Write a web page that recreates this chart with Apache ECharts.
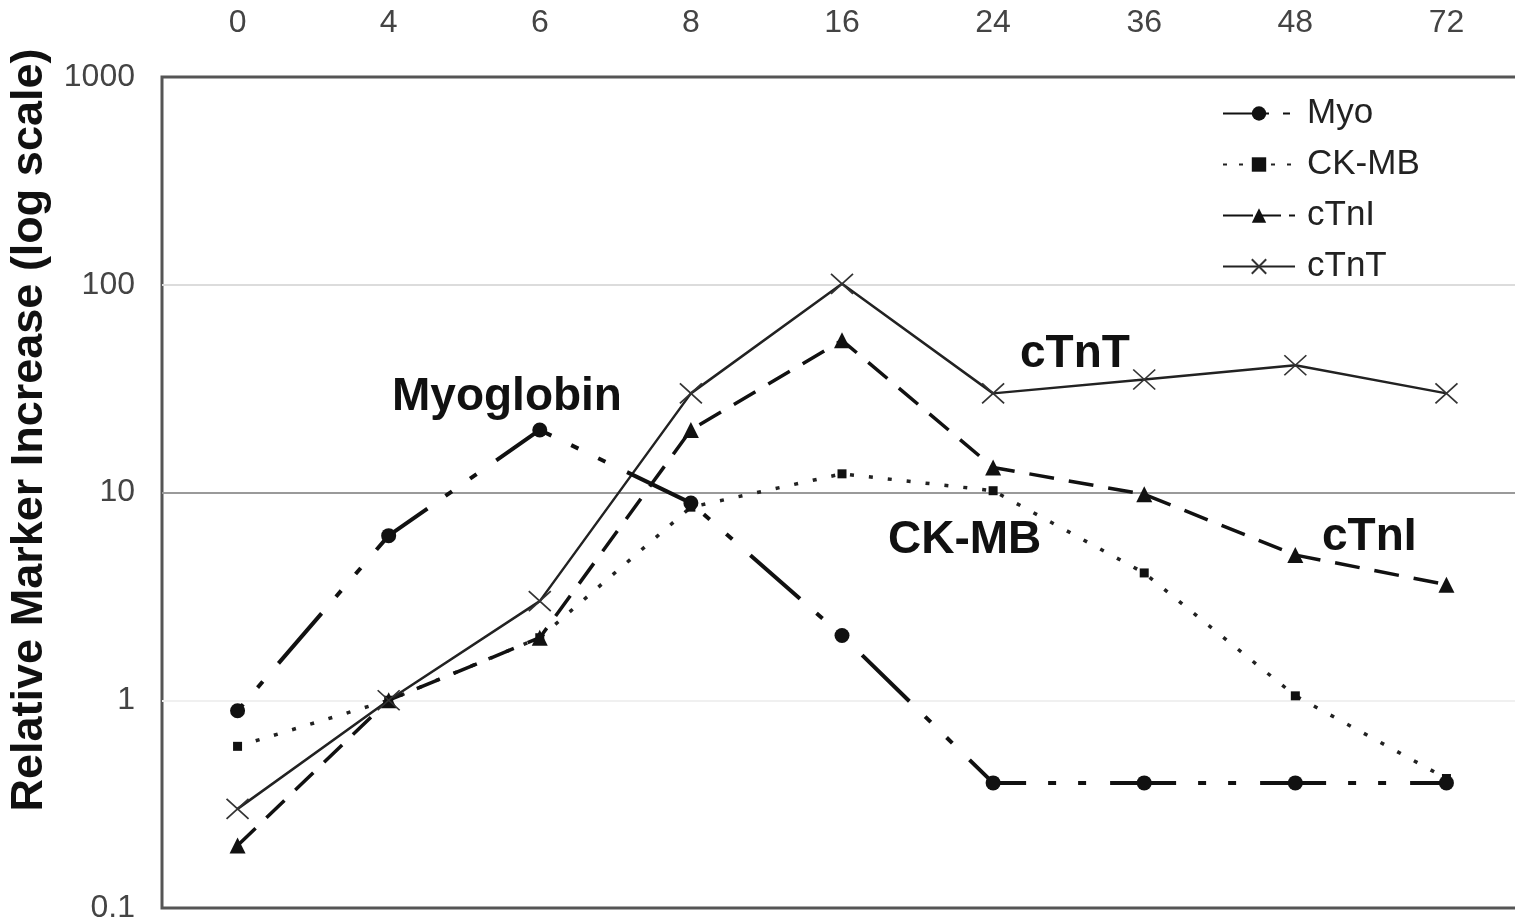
<!DOCTYPE html>
<html>
<head>
<meta charset="utf-8">
<script src="https://cdn.jsdelivr.net/npm/echarts@6/dist/echarts.min.js"></script>
<style>
html,body{margin:0;padding:0;background:#fff;}
#chart{width:1515px;height:923px;}
</style>
</head>
<body>
<div id="chart"></div>
<script>
// Hours after onset (category axis, shown at top)
const categories = ['0', '4', '6', '8', '16', '24', '36', '48', '72'];
// Relative marker increase (log scale)
const myo  = [0.89, 6.2, 20, 8.9, 2.05, 0.40, 0.40, 0.40, 0.40];
const ckmb = [0.6, 1, 2, 8.5, 12.3, 10.2, 4.1, 1.05, 0.42];
const ctni = [0.2, 1, 2, 20, 54, 13.2, 9.8, 5, 3.6];
const ctnt = [0.3, 1, 3, 30, 101, 30, 35, 41, 30];
const seriesNames = ['Myo', 'CK-MB', 'cTnI', 'cTnT'];
const annotations = [
  { text: 'Myoglobin', x: 392, y: 397 },
  { text: 'cTnT', x: 1020, y: 354 },
  { text: 'CK-MB', x: 888, y: 540 },
  { text: 'cTnI', x: 1322, y: 537 }
];

const chart = echarts.init(document.getElementById('chart'), null, { renderer: 'canvas' });
const FONT = '"Liberation Sans", Arial, sans-serif';
const MYO_DASH = [66, 22, 8, 22, 8, 24];

const option = {
  animation: false,
  backgroundColor: '#fff',
  grid: {
    left: 162, top: 77, width: 1360, bottom: 15,
    outerBoundsMode: 'none',
    containLabel: false,
    show: true, borderColor: '#555', borderWidth: 3, backgroundColor: 'transparent'
  },
  xAxis: {
    type: 'category',
    data: categories,
    position: 'top',
    boundaryGap: true,
    axisLine: { show: false },
    axisTick: { show: false },
    axisLabel: { fontSize: 32, color: '#444', fontFamily: FONT, margin: 38 },
    splitLine: { show: false }
  },
  yAxis: {
    type: 'log',
    logBase: 10,
    min: 0.1,
    max: 1000,
    axisLine: { show: false },
    axisTick: { show: false },
    axisLabel: {
      fontSize: 32, color: '#444', fontFamily: FONT, margin: 27,
      formatter: v => String(+v.toPrecision(6))
    },
    splitLine: {
      show: true,
      lineStyle: { color: ['#555', '#f0f0f0', '#9a9a9a', '#dcdcdc', '#555'], width: 2 }
    },
    minorSplitLine: { show: false }
  },
  legend: {
    orient: 'vertical',
    left: 1217,
    top: 90,
    itemWidth: 72,
    itemHeight: 18,
    itemGap: 14,
    data: [
      { name: seriesNames[0], lineStyle: { type: [46, 14, 7, 100], dashOffset: 0 } },
      { name: seriesNames[1], lineStyle: { type: [4, 12], dashOffset: 0 } },
      { name: seriesNames[2], lineStyle: { type: [30, 6, 22, 8, 6, 100], dashOffset: 0 } },
      { name: seriesNames[3] }
    ],
    textStyle: { fontSize: 35, color: '#222', fontFamily: FONT, lineHeight: 37, padding: [0, 0, 0, 7] }
  },
  series: [
    {
      name: 'Myo', type: 'line', data: myo,
      symbol: 'circle', symbolSize: 15, z: 4,
      itemStyle: { color: '#111' },
      lineStyle: { color: '#111', width: 4, type: MYO_DASH, dashOffset: 0 }
    },
    {
      name: 'CK-MB', type: 'line', data: ckmb,
      symbol: 'rect', symbolSize: 9, z: 3,
      itemStyle: { color: '#111' },
      lineStyle: { color: '#222', width: 3.5, type: [4, 15] }
    },
    {
      name: 'cTnI', type: 'line', data: ctni,
      symbol: 'triangle', symbolSize: 16, z: 3,
      itemStyle: { color: '#111' },
      lineStyle: { color: '#111', width: 3.5, type: [25, 15] }
    },
    {
      name: 'cTnT', type: 'line', data: ctnt,
      symbol: 'path://M0,0L10,10M10,0L0,10', symbolSize: [22, 20], z: 3,
      itemStyle: { color: 'transparent', borderColor: '#333', borderWidth: 1.6 },
      lineStyle: { color: '#222', width: 2.5, type: 'solid' }
    }
  ],
  graphic: [
    {
      type: 'text',
      x: 30, y: 430,
      rotation: Math.PI / 2,
      style: {
        text: 'Relative Marker Increase (log scale)',
        font: 'bold 45px ' + FONT,
        fill: '#111',
        align: 'center',
        verticalAlign: 'middle'
      }
    }
  ].concat(annotations.map(a => ({
    type: 'text',
    x: a.x, y: a.y,
    z: 10,
    style: {
      text: a.text,
      font: 'bold 46px ' + FONT,
      fill: '#111',
      align: 'left',
      verticalAlign: 'middle'
    }
  })))
};

chart.setOption(option);

// Align the Myo dash-dot pattern so long dashes are centred on the flat-tail markers
const pts = myo.map((v, i) => chart.convertToPixel({ gridIndex: 0 }, [i, v]));
let len = 0;
for (let i = 1; i <= 5; i++) {
  len += Math.hypot(pts[i][0] - pts[i - 1][0], pts[i][1] - pts[i - 1][1]);
}
const period = MYO_DASH.reduce((a, b) => a + b, 0);
const offset = (((MYO_DASH[0] / 2 - len) % period) + period) % period;
chart.setOption({ series: [{ name: 'Myo', lineStyle: { dashOffset: offset } }] });
</script>
</body>
</html>
